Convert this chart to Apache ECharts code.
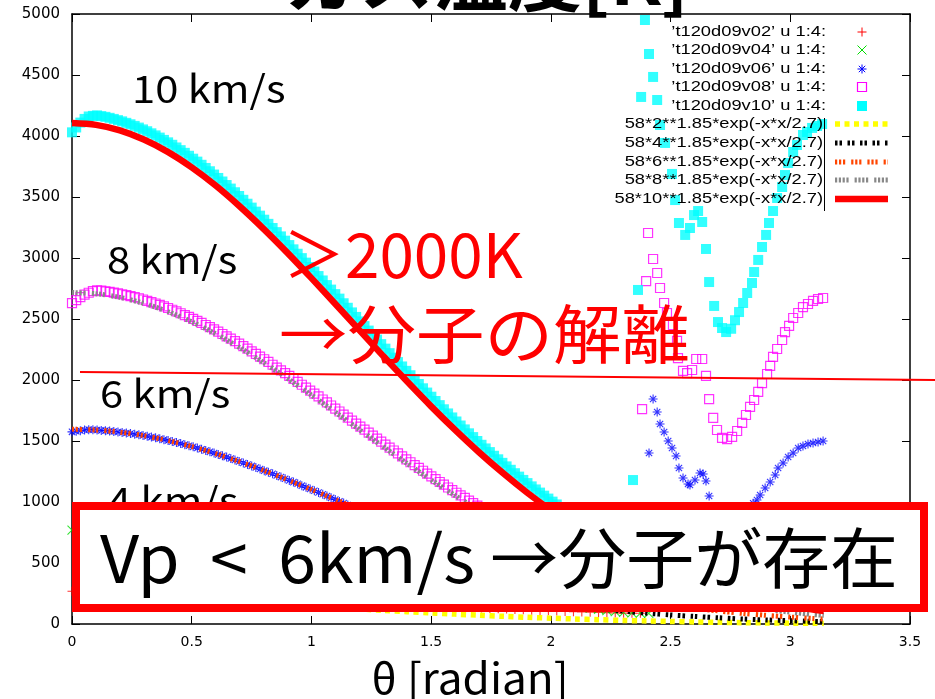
<!DOCTYPE html>
<html>
<head>
<meta charset="utf-8">
<script src="https://cdn.jsdelivr.net/npm/echarts@6/dist/echarts.min.js"></script>
<style>
  html, body { margin: 0; padding: 0; background: #fff; }
  #chart { width: 935px; height: 699px; }
</style>
</head>
<body>
<div id="chart"></div>
<script>
// ---- polar angle (rad) of the smooth part of every run: even and odd degrees ----
const thetaEven = [0, 0.0349, 0.0698, 0.1047, 0.1396, 0.1745, 0.2094, 0.2443, 0.2793, 0.3142,
  0.3491, 0.3840, 0.4189, 0.4538, 0.4887, 0.5236, 0.5585, 0.5934, 0.6283, 0.6632,
  0.6981, 0.7330, 0.7679, 0.8029, 0.8378, 0.8727, 0.9076, 0.9425, 0.9774, 1.0123,
  1.0472, 1.0821, 1.1170, 1.1519, 1.1868, 1.2217, 1.2566, 1.2915, 1.3265, 1.3614,
  1.3963, 1.4312, 1.4661, 1.5010, 1.5359, 1.5708, 1.6057, 1.6406, 1.6755, 1.7104,
  1.7453, 1.7802, 1.8151, 1.8500, 1.8850, 1.9199, 1.9548, 1.9897, 2.0246, 2.0595,
  2.0944, 2.1293, 2.1642, 2.1991, 2.2340, 2.2689, 2.3038, 2.3387];
const thetaOdd = [0.0175, 0.0524, 0.0873, 0.1222, 0.1571, 0.1920, 0.2269, 0.2618, 0.2967, 0.3316,
  0.3665, 0.4014, 0.4363, 0.4712, 0.5061, 0.5411, 0.5760, 0.6109, 0.6458, 0.6807,
  0.7156, 0.7505, 0.7854, 0.8203, 0.8552, 0.8901, 0.9250, 0.9599, 0.9948, 1.0297,
  1.0647, 1.0996, 1.1345, 1.1694, 1.2043, 1.2392, 1.2741, 1.3090, 1.3439, 1.3788,
  1.4137, 1.4486, 1.4835, 1.5184, 1.5533, 1.5882, 1.6232, 1.6581, 1.6930, 1.7279,
  1.7628, 1.7977, 1.8326, 1.8675, 1.9024, 1.9373, 1.9722, 2.0071, 2.0420, 2.0769,
  2.1118, 2.1468, 2.1817, 2.2166, 2.2515, 2.2864, 2.3213];

// gas temperature [K] at even degrees
const v02Even = [269, 269, 269, 268, 267, 267, 266, 264, 263, 262, 260, 258, 256, 254, 251,
  249, 246, 243, 241, 238, 234, 231, 228, 225, 221, 218, 214, 210, 207, 203, 199, 195, 192,
  188, 184, 180, 176, 173, 169, 165, 162, 158, 154, 151, 147, 144, 140, 137, 134, 131, 128,
  125, 122, 119, 116, 113, 111, 108, 106, 103, 101, 99, 97, 95, 93, 91, 89, 88];
const v04Even = [770, 769, 768, 766, 764, 761, 757, 753, 748, 742, 736, 729, 722, 714, 705,
  696, 687, 677, 666, 656, 644, 633, 621, 609, 596, 584, 571, 558, 544, 531, 517, 504, 490,
  476, 463, 449, 435, 422, 408, 395, 381, 368, 355, 342, 330, 317, 305, 293, 282, 270, 259,
  248, 238, 227, 217, 200, 190, 180, 170, 160, 150, 140, 130, 120, 110, 102, 96, 92];
const v06Even = [1575, 1585, 1593, 1590, 1585, 1578, 1570, 1561, 1551, 1539, 1526, 1511, 1496,
  1479, 1461, 1442, 1422, 1401, 1379, 1356, 1332, 1308, 1283, 1257, 1231, 1204, 1176, 1149,
  1120, 1092, 1063, 1034, 1005, 976, 947, 918, 889, 860, 832, 803, 775, 747, 720, 693, 666,
  640, 614, 589, 564, 540, 516, 493, 471, 449, 428, 408, 388, 368, 350, 332, 314, 298, 282,
  266, 251, 237, 223, 211];
const v08Even = [2630, 2680, 2715, 2735, 2727, 2716, 2703, 2688, 2670, 2649, 2627, 2603, 2576,
  2547, 2517, 2485, 2451, 2415, 2377, 2339, 2298, 2257, 2214, 2170, 2125, 2079, 2033, 1985,
  1937, 1889, 1840, 1791, 1742, 1692, 1643, 1593, 1544, 1495, 1446, 1398, 1350, 1302, 1256,
  1210, 1164, 1119, 1076, 1033, 991, 949, 909, 870, 832, 795, 759, 724, 690, 657, 625, 595,
  565, 537, 509, 483, 458, 434, 410, 388];
const v10Even = [4030, 4110, 4160, 4169, 4157, 4140, 4120, 4096, 4069, 4039, 4005, 3968, 3928,
  3884, 3838, 3790, 3738, 3684, 3627, 3569, 3508, 3445, 3380, 3314, 3246, 3177, 3106, 3035,
  2962, 2889, 2816, 2741, 2667, 2592, 2517, 2442, 2368, 2294, 2220, 2147, 2075, 2003, 1932,
  1863, 1794, 1726, 1660, 1595, 1532, 1469, 1409, 1350, 1292, 1236, 1181, 1128, 1077, 1028,
  980, 933, 889, 846, 804, 765, 727, 690, 655, 621];

// gas temperature [K] at odd degrees
const v06Odd = [1580, 1590, 1592, 1587, 1581, 1574, 1566, 1556, 1545, 1532, 1519, 1504, 1487,
  1470, 1452, 1432, 1411, 1390, 1368, 1344, 1320, 1296, 1270, 1244, 1217, 1190, 1163, 1134,
  1106, 1078, 1049, 1020, 991, 962, 933, 904, 875, 846, 818, 789, 761, 734, 706, 679, 653,
  627, 601, 577, 552, 528, 505, 482, 460, 439, 418, 397, 378, 359, 341, 323, 306, 290, 274,
  259, 244, 230, 217];
const v08Odd = [2655, 2700, 2728, 2732, 2722, 2710, 2696, 2679, 2660, 2639, 2615, 2590, 2562,
  2532, 2501, 2468, 2433, 2396, 2358, 2319, 2278, 2235, 2192, 2148, 2102, 2056, 2009, 1961,
  1913, 1865, 1816, 1766, 1717, 1667, 1618, 1568, 1519, 1470, 1422, 1374, 1326, 1279, 1232,
  1187, 1142, 1097, 1054, 1011, 970, 929, 890, 851, 813, 777, 741, 707, 673, 641, 610, 580,
  551, 523, 496, 470, 446, 422, 399];
const v10Odd = [4070, 4140, 4165, 4163, 4149, 4130, 4108, 4083, 4054, 4022, 3987, 3948, 3906,
  3862, 3814, 3764, 3711, 3656, 3598, 3539, 3477, 3413, 3347, 3280, 3212, 3142, 3071, 2999,
  2926, 2852, 2778, 2704, 2629, 2554, 2480, 2405, 2331, 2257, 2183, 2111, 2039, 1967, 1897,
  1828, 1760, 1693, 1627, 1563, 1500, 1439, 1379, 1321, 1264, 1208, 1155, 1103, 1052, 1003,
  956, 911, 867, 825, 784, 745, 708, 672, 638];

// ---- scattered rear-side points (theta [rad], temperature [K]) ----
const v02TailTheta = [2.374, 2.45, 2.6, 2.8, 3.0, 3.14];
const v02TailK = [88, 140, 150, 170, 190, 205];
const v04TailTheta = [2.374, 2.409, 2.45, 2.55, 2.65, 2.75, 2.85, 2.95, 3.05, 3.14];
const v04TailK = [90, 88, 160, 300, 420, 450, 540, 620, 690, 720];
const v06TailTheta = [2.410, 2.427, 2.444, 2.456, 2.473, 2.490, 2.506, 2.523, 2.535, 2.552,
  2.573, 2.581, 2.602, 2.623, 2.636, 2.648, 2.661, 2.665, 2.690, 2.710, 2.730, 2.750, 2.770,
  2.790, 2.810, 2.830, 2.845, 2.861, 2.874, 2.895, 2.916, 2.937, 2.949, 2.970, 2.991, 3.012,
  3.033, 3.053, 3.074, 3.095, 3.116, 3.137];
const v06TailK = [1402, 1844, 1738, 1639, 1574, 1500, 1443, 1377, 1279, 1197, 1148, 1139, 1180,
  1238, 1230, 1172, 1049, 959, 900, 860, 840, 845, 870, 900, 930, 960, 990, 1016, 1057, 1115,
  1164, 1221, 1279, 1320, 1369, 1402, 1443, 1459, 1475, 1484, 1492, 1500];
const v08TailTheta = [2.381, 2.398, 2.406, 2.427, 2.444, 2.456, 2.473, 2.485, 2.510, 2.527,
  2.531, 2.552, 2.569, 2.590, 2.607, 2.632, 2.648, 2.661, 2.678, 2.694, 2.715, 2.736, 2.757,
  2.778, 2.799, 2.815, 2.832, 2.849, 2.866, 2.882, 2.903, 2.916, 2.928, 2.945, 2.966, 2.978,
  2.995, 3.012, 3.033, 3.053, 3.074, 3.095, 3.116, 3.137];
const v08TailK = [1762, 2811, 3205, 2992, 2877, 2754, 2631, 2549, 2451, 2320, 2180, 2074, 2057,
  2082, 2172, 2172, 2033, 1844, 1689, 1590, 1525, 1516, 1533, 1582, 1648, 1713, 1779, 1836,
  1902, 1975, 2049, 2115, 2189, 2254, 2328, 2393, 2443, 2508, 2549, 2598, 2623, 2648, 2664, 2672];
const v10TailTheta = [2.343, 2.364, 2.377, 2.393, 2.410, 2.427, 2.444, 2.456, 2.477, 2.506,
  2.519, 2.535, 2.561, 2.581, 2.598, 2.615, 2.632, 2.648, 2.661, 2.682, 2.698, 2.715, 2.732,
  2.753, 2.769, 2.786, 2.803, 2.820, 2.840, 2.849, 2.866, 2.882, 2.899, 2.911, 2.928, 2.945,
  2.966, 2.978, 2.991, 3.012, 3.028, 3.053, 3.070, 3.091, 3.112, 3.133];
const v10TailK = [1180, 2738, 4320, 4951, 4672, 4484, 4295, 4090, 3943, 3689, 3475, 3287, 3189,
  3246, 3352, 3385, 3295, 3074, 2803, 2607, 2475, 2426, 2393, 2420, 2490, 2557, 2631, 2713,
  2795, 2885, 2984, 3090, 3189, 3287, 3385, 3492, 3582, 3680, 3779, 3869, 3926, 4008, 4033,
  4066, 4082, 4098];

// ---- fitted curves 58*v**1.85*exp(-x*x/2.7), tabulated ----
const fitTheta = [0, 0.1, 0.2, 0.3, 0.4, 0.5, 0.6, 0.7, 0.8, 0.9, 1.0, 1.1, 1.2, 1.3, 1.4, 1.5,
  1.6, 1.7, 1.8, 1.9, 2.0, 2.1, 2.2, 2.3, 2.4, 2.5, 2.6, 2.7, 2.8, 2.9, 3.0, 3.1, 3.14];
const fit2 = [209, 208, 206, 202, 197, 191, 183, 174, 165, 155, 144, 134, 123, 112, 101, 91, 81,
  72, 63, 55, 48, 41, 35, 29, 25, 21, 17, 14, 11, 9, 7, 6, 5];
const fit4 = [754, 751, 743, 729, 711, 687, 660, 629, 595, 559, 521, 482, 442, 403, 365, 328,
  292, 259, 227, 198, 171, 147, 126, 106, 89, 74, 62, 51, 41, 33, 27, 21, 20];
const fit6 = [1596, 1590, 1573, 1544, 1504, 1455, 1397, 1331, 1259, 1182, 1102, 1020, 936, 854,
  772, 694, 618, 547, 481, 419, 363, 312, 266, 225, 189, 158, 131, 107, 87, 71, 57, 45, 41];
const fit8 = [2717, 2707, 2677, 2628, 2561, 2477, 2378, 2266, 2143, 2013, 1876, 1736, 1594,
  1453, 1315, 1181, 1053, 932, 818, 713, 618, 531, 452, 383, 322, 268, 222, 183, 149, 121, 97, 77, 71];
const fit10 = [4106, 4091, 4046, 3971, 3870, 3743, 3594, 3424, 3239, 3042, 2835, 2623, 2409,
  2196, 1987, 1784, 1591, 1408, 1237, 1078, 933, 802, 684, 579, 486, 406, 336, 276, 225, 182,
  147, 117, 107];

const runNames = ["’t120d09v02’ u 1:4:", "’t120d09v04’ u 1:4:", "’t120d09v06’ u 1:4:",
  "’t120d09v08’ u 1:4:", "’t120d09v10’ u 1:4:"];
const fitNames = ['58*2**1.85*exp(-x*x/2.7)', '58*4**1.85*exp(-x*x/2.7)', '58*6**1.85*exp(-x*x/2.7)',
  '58*8**1.85*exp(-x*x/2.7)', '58*10**1.85*exp(-x*x/2.7)'];
const speedLabels = ['10 km/s', '8 km/s', '6 km/s', '4 km/s'];

// ---------------------------------------------------------------------------
const pairs = (xs, ys) => (ys ? xs.map((x, i) => [x, ys[i]]) : []);

const PLUS = 'path://M0,5L10,5M5,0L5,10';
const CROSS = 'path://M0,0L10,10M0,10L10,0';
const STAR = 'path://M0,5L10,5M5,0L5,10M1.5,1.5L8.5,8.5M1.5,8.5L8.5,1.5';

const runs = [
  { even: v02Even, odd: null, tt: v02TailTheta, tk: v02TailK, color: '#ff0000', symbol: PLUS, filled: false },
  { even: v04Even, odd: null, tt: v04TailTheta, tk: v04TailK, color: '#00dd00', symbol: CROSS, filled: false },
  { even: v06Even, odd: v06Odd, tt: v06TailTheta, tk: v06TailK, color: '#0000ff', symbol: STAR, filled: false },
  { even: v08Even, odd: v08Odd, tt: v08TailTheta, tk: v08TailK, color: '#ff00ff', symbol: 'rect', filled: false },
  { even: v10Even, odd: v10Odd, tt: v10TailTheta, tk: v10TailK, color: '#00ffff', symbol: 'rect', filled: true }
];

const fits = [
  { values: fit2, color: '#ffff00', width: 5.5, dash: [5, 4.5] },
  { values: fit4, color: '#000000', width: 5, dash: [2.5, 2, 2.5, 5.5] },
  { values: fit6, color: '#ff4500', width: 5, dash: [2.2, 1.8, 2.2, 1.8, 2.2, 6] },
  { values: fit8, color: '#888888', width: 5, dash: [2.2, 1.6, 2.2, 1.6, 2.2, 1.6, 2.2, 6] },
  { values: fit10, color: '#ff0000', width: 6.5, dash: 'solid' }
];

const series = [];
runs.forEach((r, i) => {
  const pts = pairs(thetaEven, r.even).concat(pairs(thetaOdd, r.odd)).sort((a, b) => a[0] - b[0]);
  series.push({
    type: 'scatter',
    name: runNames[i],
    silent: true,
    symbol: r.symbol,
    symbolSize: r.filled ? 10 : 9,
    data: pts.concat(pairs(r.tt, r.tk)),
    itemStyle: r.filled
      ? { color: r.color, borderWidth: 0 }
      : { color: 'rgba(0,0,0,0)', borderColor: r.color, borderWidth: r.symbol === 'rect' ? 1.2 : 1.1 }
  });
});
fits.forEach((f, i) => {
  series.push({
    type: 'line',
    name: fitNames[i],
    silent: true,
    showSymbol: false,
    smooth: 0.3,
    data: pairs(fitTheta, f.values),
    lineStyle: { color: f.color, width: f.width, type: f.dash, cap: 'butt' }
  });
});

const AXIS_FONT = 'DejaVu Sans';
const frameLine = { show: true, onZero: false, lineStyle: { color: '#000', width: 1.5 } };
const innerTick = { show: true, inside: true, length: 8, lineStyle: { color: '#000', width: 1 } };

// ---- overlay: key, speed labels, annotations ----
const JP = '"Noto Sans CJK JP", sans-serif';
const LEG = '15px "Liberation Sans", Arial, sans-serif';
const graphics = [];
const txt = (x, y, text, font, fill, align, sx, z) => ({
  type: 'text', x: x, y: y, scaleX: sx, z: z,
  style: { text: text, font: font, fill: fill, textAlign: align, textVerticalAlign: 'middle',
    align: align, verticalAlign: 'middle' }
});

const legendRowsY = [32, 50, 69, 87, 106, 124, 143, 162, 180, 199];
const legendIconX = 862;
runNames.forEach((n, i) => graphics.push(txt(826, legendRowsY[i], n, LEG, '#000', 'right', 1.22, 30)));
fitNames.forEach((n, i) => {
  graphics.push(txt(823, legendRowsY[5 + i], n, LEG, '#000', 'right', 1.22, 30));
  const f = fits[i];
  graphics.push({ type: 'line', z: 30,
    shape: { x1: 835, y1: legendRowsY[5 + i], x2: 888, y2: legendRowsY[5 + i] },
    style: { stroke: f.color, lineWidth: f.width, lineDash: f.dash === 'solid' ? null : f.dash } });
});
// key marker glyphs
(function () {
  const x = legendIconX, h = 4.5;
  const seg = (p, c) => graphics.push({ type: 'polyline', z: 30, shape: { points: p }, style: { stroke: c, lineWidth: 1, fill: null } });
  let y = legendRowsY[0];
  seg([[x - h, y], [x + h, y]], '#ff0000'); seg([[x, y - h], [x, y + h]], '#ff0000');
  y = legendRowsY[1];
  seg([[x - h, y - h], [x + h, y + h]], '#00dd00'); seg([[x - h, y + h], [x + h, y - h]], '#00dd00');
  y = legendRowsY[2];
  seg([[x - h, y], [x + h, y]], '#0000ff'); seg([[x, y - h], [x, y + h]], '#0000ff');
  seg([[x - 3.2, y - 3.2], [x + 3.2, y + 3.2]], '#0000ff'); seg([[x - 3.2, y + 3.2], [x + 3.2, y - 3.2]], '#0000ff');
  y = legendRowsY[3];
  graphics.push({ type: 'rect', z: 30, shape: { x: x - h, y: y - h, width: 9, height: 9 }, style: { stroke: '#ff00ff', lineWidth: 1.2, fill: null } });
  y = legendRowsY[4];
  graphics.push({ type: 'rect', z: 30, shape: { x: x - 5, y: y - 5, width: 10, height: 10 }, style: { fill: '#00ffff' } });
})();
graphics.push({ type: 'line', z: 30, shape: { x1: 824.5, y1: 118, x2: 824.5, y2: 211 }, style: { stroke: '#000', lineWidth: 1 } });

// speed labels
const speedPos = [[132, 89], [107, 260], [100, 394], [108, 501]];
speedLabels.forEach((t, i) => graphics.push(txt(speedPos[i][0], speedPos[i][1], t, '38px ' + JP, '#000', 'left', 1.1, 40)));

// headline (runs off the top edge)
graphics.push(txt(487, -22, 'ガス温度[K]', 'bold 72px ' + JP, '#000', 'center', 1.03, 40));

// dissociation note
graphics.push(txt(283, 254, '＞2000K', '62px ' + JP, '#ff0000', 'left', 1.0, 40));
graphics.push(txt(279, 334, '→分子の解離', '64px ' + JP, '#ff0000', 'left', 1.07, 40));
graphics.push({ type: 'line', z: 41, shape: { x1: 80, y1: 372, x2: 935, y2: 380 },
  style: { stroke: '#ff0000', lineWidth: 1.8 } });

// framed conclusion
graphics.push({ type: 'rect', z: 50, shape: { x: 76, y: 506, width: 848, height: 102 },
  style: { fill: '#ffffff', stroke: '#ff0000', lineWidth: 8 } });
graphics.push(txt(499, 558, 'Vp  <  6km/s →分子が存在', '66px ' + JP, '#000', 'center', 1.03, 51));

// x-axis title
graphics.push(txt(470, 678, 'θ [radian]', '42px ' + JP, '#000', 'center', 1.05, 40));

const chart = echarts.init(document.getElementById('chart'), null, { renderer: 'canvas' });
chart.setOption({
  animation: false,
  backgroundColor: '#ffffff',
  grid: { left: 72, right: 25, top: 14, bottom: 75, containLabel: false },
  xAxis: [
    { type: 'value', min: 0, max: 3.5, interval: 0.5, position: 'bottom',
      axisLine: frameLine, axisTick: innerTick, splitLine: { show: false },
      axisLabel: { color: '#000', fontSize: 14, fontFamily: AXIS_FONT, margin: 11 } },
    { type: 'value', min: 0, max: 3.5, interval: 0.5, position: 'top',
      axisLine: frameLine, axisTick: innerTick, splitLine: { show: false }, axisLabel: { show: false } }
  ],
  yAxis: [
    { type: 'value', min: 0, max: 5000, interval: 500, position: 'left',
      axisLine: frameLine, axisTick: innerTick, splitLine: { show: false },
      axisLabel: { color: '#000', fontSize: 15, fontFamily: AXIS_FONT, margin: 12,
        formatter: v => String(v) } },
    { type: 'value', min: 0, max: 5000, interval: 500, position: 'right',
      axisLine: frameLine, axisTick: innerTick, splitLine: { show: false }, axisLabel: { show: false } }
  ],
  series: series,
  graphic: { elements: graphics }
});
</script>
</body>
</html>
